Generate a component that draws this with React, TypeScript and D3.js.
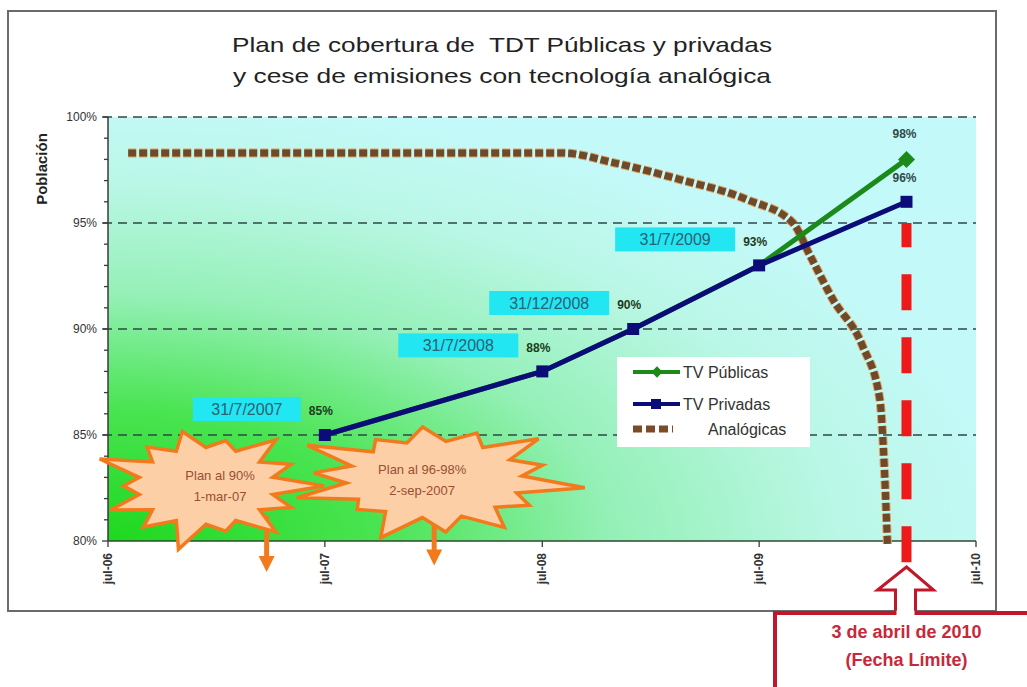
import { useMemo } from "react";
import { curveMonotoneX, line, scaleLinear, scaleTime, timeParse, range } from "d3";

const totalWidth = 1027;
const totalHeight = 687;
const plotLeft = 108;
const plotRight = 976;
const plotTop = 117;
const plotBottom = 541;

const parse = timeParse("%Y-%m-%d");

// TDT series (dates placed where the points sit on the time axis)
const tdtDates = ["2007-07-01", "2008-07-01", "2008-12-01", "2009-07-01", "2010-03-06"];
const publicasValues = [85, 88, 90, 93, 98];
const privadasValues = [85, 88, 90, 93, 96];
const dateLabels = ["31/7/2007", "31/7/2008", "31/12/2008", "31/7/2009"];
const pctLabels = ["85%", "88%", "90%", "93%"];

// analog switch-off curve
const analogDates = [
  "2006-08-04", "2008-08-05", "2008-10-28", "2009-02-18", "2009-06-11", "2009-08-27",
  "2009-09-24", "2009-11-02", "2009-12-22", "2010-01-20", "2010-01-28", "2010-02-02",
];
const analogValues = [98.3, 98.3, 97.85, 97.05, 96.1, 95.0, 93.5, 91.4, 89.2, 86.7, 83.3, 79.8];

const xTickDates = ["2006-07-01", "2007-07-01", "2008-07-01", "2009-07-01", "2010-07-01"];
const xTickLabels = ["jul-06", "jul-07", "jul-08", "jul-09", "jul-10"];
const yMajorTicks = [80, 85, 90, 95, 100];
const yTickLabels = ["80%", "85%", "90%", "95%", "100%"];

const deadlineDate = "2010-03-06";

// annotation bursts
const burstCenters = ["2006-12-13", "2008-01-01"];
const burstLevels = [82.6, 82.9];
const burstText = [
  ["Plan al 90%", "1-mar-07"],
  ["Plan al 96-98%", "2-sep-2007"],
];
const burstArrowDates = ["2007-03-25", "2008-01-01"];
const burstSpikes = [
  [1.0, 0.8, 0.95, 0.75, 1.05, 0.85, 0.9, 0.7, 1.0, 0.8, 0.9, 0.75, 0.95, 0.8],
  [1.0, 0.75, 0.9, 0.85, 1.0, 0.7, 0.95, 0.8, 1.0, 0.75, 0.85, 0.8, 0.95, 0.75],
];

const font = "'Liberation Sans', Arial, sans-serif";

const Burst = ({ cx, cy, rx, ry, spikes, seed }: { cx: number; cy: number; rx: number; ry: number; spikes: number[]; seed: number }) => {
  const n = spikes.length;
  const pts: string[] = [];
  spikes.forEach((s, i) => {
    const a = ((i + seed * 0.3) / n) * Math.PI * 2;
    const a2 = ((i + 0.5 + seed * 0.3) / n) * Math.PI * 2;
    pts.push(`${cx + Math.cos(a) * rx * s},${cy + Math.sin(a) * ry * s}`);
    pts.push(`${cx + Math.cos(a2) * rx * 0.58},${cy + Math.sin(a2) * ry * 0.62}`);
  });
  return <polygon points={pts.join(" ")} fill="#fccfa6" stroke="#f27a1c" strokeWidth={3.5} strokeLinejoin="miter" />;
};

export default function App() {
  const { x, y, pubPath, privPath, analogPath } = useMemo(() => {
    const x = scaleTime()
      .domain([parse("2006-07-01")!, parse("2010-07-01")!])
      .range([plotLeft, plotRight]);
    const y = scaleLinear().domain([80, 100]).range([plotBottom, plotTop]);
    const l = line<[Date, number]>()
      .x((d) => x(d[0]))
      .y((d) => y(d[1]));
    const pubPath = l(tdtDates.map((d, i) => [parse(d)!, publicasValues[i]]));
    const privPath = l(tdtDates.map((d, i) => [parse(d)!, privadasValues[i]]));
    const analogPath = line<[Date, number]>()
      .x((d) => x(d[0]))
      .y((d) => y(d[1]))
      .curve(curveMonotoneX)(analogDates.map((d, i) => [parse(d)!, analogValues[i]]));
    return { x, y, pubPath, privPath, analogPath };
  }, []);

  const dl = x(parse(deadlineDate)!);
  const pts = tdtDates.map((d, i) => ({ px: x(parse(d)!), py: y(privadasValues[i]) }));

  return (
    <svg
      width={totalWidth}
      height={totalHeight}
      viewBox={`0 0 ${totalWidth} ${totalHeight}`}
      style={{ position: "absolute", left: 0, top: 0, background: "#fff" }}
      fontFamily={font}
    >
      <defs>
        <radialGradient id="bg" cx="0" cy="1" r="1.05" fx="0" fy="1" gradientUnits="objectBoundingBox">
          <stop offset="0" stopColor="#1ed81e" />
          <stop offset="0.3" stopColor="#4ae452" />
          <stop offset="0.55" stopColor="#94f0b6" />
          <stop offset="0.8" stopColor="#baf7e6" />
          <stop offset="1" stopColor="#c4f9f9" />
        </radialGradient>
      </defs>

      {/* outer frame */}
      <rect x={8} y={11} width={988} height={600} fill="#fff" stroke="#6b6b6b" strokeWidth={2} />

      {/* title */}
      <text x={502} y={52} textAnchor="middle" fontSize={21} fill="#222" textLength={540} lengthAdjust="spacingAndGlyphs">
        {"Plan de cobertura de\u00a0 TDT Públicas y privadas"}
      </text>
      <text x={502} y={83} textAnchor="middle" fontSize={21} fill="#222" textLength={538} lengthAdjust="spacingAndGlyphs">
        y cese de emisiones con tecnología analógica
      </text>

      {/* plot background */}
      <rect x={plotLeft} y={plotTop} width={plotRight - plotLeft} height={plotBottom - plotTop} fill="url(#bg)" />

      {/* gridlines */}
      {yMajorTicks.slice(1).map((v) => (
        <line key={v} x1={plotLeft - 5} x2={plotRight} y1={y(v)} y2={y(v)} stroke="#2c4848" strokeWidth={1.6} strokeDasharray="9 6" />
      ))}

      {/* y axis */}
      <line x1={plotLeft} x2={plotLeft} y1={plotTop} y2={plotBottom} stroke="#3a3a3a" strokeWidth={1.5} />
      {range(80, 101).map((v) => (
        <line key={v} x1={plotLeft - (v % 5 === 0 ? 6 : 4)} x2={plotLeft} y1={y(v)} y2={y(v)} stroke="#3a3a3a" strokeWidth={1.3} />
      ))}
      {yMajorTicks.map((v, i) => (
        <text key={v} x={plotLeft - 11} y={y(v)} dy="0.35em" textAnchor="end" fontSize={12} fill="#333">
          {yTickLabels[i]}
        </text>
      ))}
      <text transform={`translate(47,${169}) rotate(-90)`} textAnchor="middle" fontSize={15} fontWeight="bold" fill="#222">
        Población
      </text>

      {/* x axis */}
      <line x1={plotLeft} x2={plotRight} y1={plotBottom} y2={plotBottom} stroke="#2f4a2f" strokeWidth={1.5} />
      {xTickDates.map((d, i) => {
        const px = x(parse(d)!);
        return (
          <g key={d}>
            <line x1={px} x2={px} y1={plotBottom} y2={plotBottom + 6} stroke="#3a3a3a" strokeWidth={1.3} />
            <text transform={`translate(${px + 4},${plotBottom + 12}) rotate(-90)`} textAnchor="end" fontSize={12} fontWeight="bold" fill="#333">
              {xTickLabels[i]}
            </text>
          </g>
        );
      })}

      {/* analog curve */}
      {analogPath && (
        <>
          <path d={analogPath} fill="none" stroke="#e0a060" strokeWidth={9} strokeDasharray="8 3" />
          <path d={analogPath} fill="none" stroke="#6e4a2a" strokeWidth={7} strokeDasharray="8 3" />
        </>
      )}

      {/* TDT lines */}
      {pubPath && <path d={pubPath} fill="none" stroke="#1b8a1b" strokeWidth={5} />}
      <rect x={x(parse(tdtDates[4])!) - 6} y={y(publicasValues[4]) - 6} width={12} height={12} fill="#1b8a1b" transform={`rotate(45 ${x(parse(tdtDates[4])!)} ${y(publicasValues[4])})`} />
      {privPath && <path d={privPath} fill="none" stroke="#0c0c78" strokeWidth={5} />}
      {pts.map((p, i) => (
        <rect key={i} x={p.px - 6} y={p.py - 6} width={12} height={12} fill="#0c0c78" />
      ))}

      {/* date boxes and percent labels */}
      {dateLabels.map((lab, i) => {
        const p = pts[i];
        const w = i === 0 ? 108 : 120;
        return (
          <g key={lab}>
            <rect x={p.px - 24 - w} y={p.py - 38} width={w} height={24} fill="#22e6f2" />
            <text x={p.px - 24 - w / 2} y={p.py - 26} dy="0.35em" textAnchor="middle" fontSize={16} fill="#2c6272">
              {lab}
            </text>
            <text x={p.px - 16} y={p.py - 24} dy="0.35em" fontSize={12} fontWeight="bold" fill="#1c3c1c">
              {pctLabels[i]}
            </text>
          </g>
        );
      })}
      <text x={x(parse(tdtDates[4])!) - 14} y={y(publicasValues[4]) - 26} dy="0.35em" fontSize={12} fontWeight="bold" fill="#2e4a4a">
        98%
      </text>
      <text x={x(parse(tdtDates[4])!) - 14} y={y(privadasValues[4]) - 24} dy="0.35em" fontSize={12} fontWeight="bold" fill="#2e4a4a">
        96%
      </text>

      {/* legend */}
      <rect x={617} y={357} width={193} height={90} fill="#fff" />
      <line x1={633} x2={680} y1={372} y2={372} stroke="#1b8a1b" strokeWidth={4} />
      <rect x={653} y={368} width={8} height={8} fill="#1b8a1b" transform="rotate(45 657 372)" />
      <text x={683} y={372} dy="0.35em" fontSize={16} fill="#333">TV Públicas</text>
      <line x1={633} x2={680} y1={404} y2={404} stroke="#0c0c78" strokeWidth={4} />
      <rect x={651} y={399} width={10} height={10} fill="#0c0c78" />
      <text x={683} y={404} dy="0.35em" fontSize={16} fill="#333">TV Privadas</text>
      <line x1={633} x2={673} y1={429} y2={429} stroke="#7a4c2a" strokeWidth={7} strokeDasharray="9 4" />
      <text x={708} y={429} dy="0.35em" fontSize={16} fill="#333">Analógicas</text>

      {/* bursts */}
      {burstCenters.map((d, i) => {
        const cx = x(parse(d)!);
        const cy = y(burstLevels[i]);
        const ax = x(parse(burstArrowDates[i])!);
        return (
          <g key={d}>
            <line x1={ax} x2={ax} y1={cy + 30} y2={cy + 72} stroke="#f27a1c" strokeWidth={5} />
            <polygon points={`${ax - 8},${cy + 70} ${ax + 8},${cy + 70} ${ax},${cy + 86}`} fill="#f27a1c" />
            <Burst cx={cx} cy={cy} rx={i === 0 ? 118 : 152} ry={62} spikes={burstSpikes[i]} seed={i} />
            <text x={cx + (i === 0 ? 14 : -12)} y={cy - 6} textAnchor="middle" fontSize={13} fill="#9a4e34">
              {burstText[i][0]}
            </text>
            <text x={cx + (i === 0 ? 14 : -12)} y={cy + 15} textAnchor="middle" fontSize={13} fill="#9a4e34">
              {burstText[i][1]}
            </text>
          </g>
        );
      })}

      {/* deadline dashed line */}
      <line x1={dl} x2={dl} y1={y(79)} y2={y(95)} stroke="#ee1a1a" strokeWidth={10} strokeDasharray="36 27" />

      {/* deadline callout */}
      <rect x={775} y={613} width={270} height={90} fill="#fff" stroke="#c0182a" strokeWidth={4} />
      <polygon
        points={`${dl},567 ${dl + 27},590 ${dl + 9},590 ${dl + 9},613 ${dl - 11},613 ${dl - 11},590 ${dl - 29},590`}
        fill="#fff"
        stroke="#c0182a"
        strokeWidth={3}
      />
      <line x1={dl - 10} x2={dl + 8} y1={613} y2={613} stroke="#fff" strokeWidth={5} />
      <text x={dl} y={638} textAnchor="middle" fontSize={18} fontWeight="bold" fill="#c8283a">
        3 de abril de 2010
      </text>
      <text x={dl} y={666} textAnchor="middle" fontSize={18} fontWeight="bold" fill="#c8283a">
        (Fecha Límite)
      </text>
    </svg>
  );
}
